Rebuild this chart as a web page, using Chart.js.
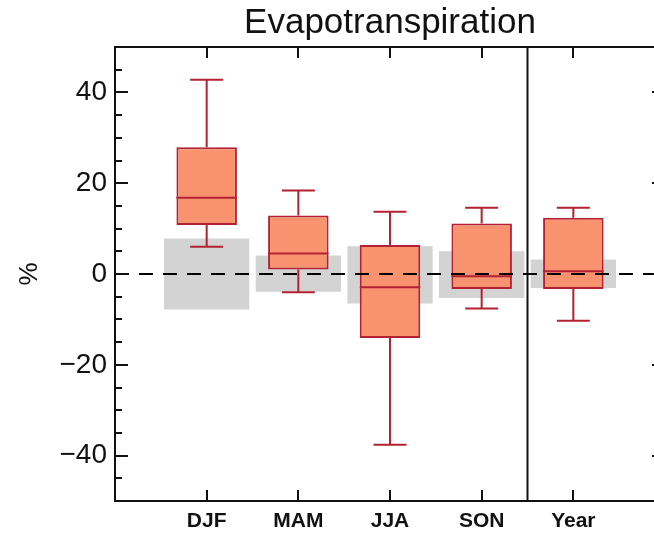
<!DOCTYPE html>
<html>
<head>
<meta charset="utf-8">
<script src="https://cdn.jsdelivr.net/npm/chart.js@4.4.1/dist/chart.umd.min.js"></script>
<style>
  html, body { margin: 0; padding: 0; background: #fff; overflow: hidden; }
  #wrap { width: 654px; height: 534px; overflow: hidden; position: relative; }
  canvas { display: block; }
</style>
</head>
<body>
<div id="wrap"><canvas id="c" width="700" height="534"></canvas></div>
<script>
// ---- data ----
const categories   = ['DJF', 'MAM', 'JJA', 'SON', 'Year'];
const whiskerLow   = [6.0, -4.0, -37.6, -7.6, -10.3];
const quartile1    = [10.8, 1.0, -14.1, -3.3, -3.3];
const medianVals   = [16.8, 4.5, -2.9, -0.5, 0.6];
const quartile3    = [27.9, 12.9, 6.4, 11.1, 12.4];
const whiskerHigh  = [42.8, 18.4, 13.7, 14.6, 14.6];
const spreadLow    = [-7.8, -3.9, -6.5, -5.3, -3.1];
const spreadHigh   = [7.8, 4.1, 6.1, 5.0, 3.2];
const yTickValues  = [-40, -20, 0, 20, 40];
const yTickLabels  = ['\u221240', '\u221220', '0', '20', '40'];
const separatorAt  = 4.5;

const FONT = "'Liberation Sans', Arial, Helvetica, sans-serif";
const RED = '#B22233';
const FILL = '#F9926F';
const GREY = '#D3D3D3';
const CAP = 0.18;
const MED = 0.33;

const xs = categories.map((c, i) => i + 1);

const greyData = xs.map((x, i) => ({ x, y: [spreadLow[i], spreadHigh[i]] }));
const boxData = xs.map((x, i) => ({ x, y: [quartile1[i], quartile3[i]] }));

const whiskerData = [];
xs.forEach((x, i) => {
  whiskerData.push({ x, y: quartile3[i] }, { x, y: whiskerHigh[i] }, { x, y: null });
  whiskerData.push({ x: x - CAP, y: whiskerHigh[i] }, { x: x + CAP, y: whiskerHigh[i] }, { x, y: null });
  whiskerData.push({ x, y: quartile1[i] }, { x, y: whiskerLow[i] }, { x, y: null });
  whiskerData.push({ x: x - CAP, y: whiskerLow[i] }, { x: x + CAP, y: whiskerLow[i] }, { x, y: null });
});
const medianData = [];
xs.forEach((x, i) => {
  medianData.push({ x: x - MED, y: medianVals[i] }, { x: x + MED, y: medianVals[i] }, { x, y: null });
});

const framePlugin = {
  id: 'frame',
  afterDatasetsDraw(chart) {
    const { ctx, chartArea: a, scales: { x, y } } = chart;
    ctx.save();
    ctx.strokeStyle = '#111';
    ctx.lineWidth = 2;
    ctx.beginPath();
    for (let v = -45; v <= 45; v += 5) {
      const py = Math.round(y.getPixelForValue(v));
      const len = yTickValues.includes(v) ? 13 : 7;
      ctx.moveTo(a.left, py); ctx.lineTo(a.left + len, py);
      ctx.moveTo(a.right, py); ctx.lineTo(a.right - len, py);
    }
    xs.forEach(v => {
      const px = Math.round(x.getPixelForValue(v));
      ctx.moveTo(px, a.top); ctx.lineTo(px, a.top + 11);
      ctx.moveTo(px, a.bottom); ctx.lineTo(px, a.bottom - 11);
    });
    ctx.stroke();
    ctx.strokeRect(a.left, a.top, a.right - a.left, a.bottom - a.top);
    ctx.restore();
  }
};

new Chart(document.getElementById('c'), {
  type: 'bar',
  data: {
    datasets: [
      { type: 'bar', data: greyData, backgroundColor: GREY, borderWidth: 0,
        grouped: false, categoryPercentage: 1, barPercentage: 0.93, order: 6 },
      { type: 'line', data: whiskerData, borderColor: RED, borderWidth: 2,
        pointRadius: 0, spanGaps: false, tension: 0, fill: false, order: 5 },
      { type: 'bar', data: boxData, backgroundColor: FILL, borderColor: RED, borderWidth: 2,
        borderSkipped: false, grouped: false, categoryPercentage: 1, barPercentage: 0.66, order: 4 },
      { type: 'line', data: medianData, borderColor: RED, borderWidth: 2,
        pointRadius: 0, spanGaps: false, tension: 0, fill: false, order: 3 },
      { type: 'line', data: [{ x: 0, y: 0 }, { x: 6, y: 0 }], borderColor: '#000', borderWidth: 2,
        borderDash: [14, 10], pointRadius: 0, fill: false, order: 1 },
      { type: 'line', data: [{ x: separatorAt, y: -50 }, { x: separatorAt, y: 50 }], borderColor: '#111',
        borderWidth: 2, pointRadius: 0, fill: false, order: 1 }
    ]
  },
  options: {
    responsive: false,
    animation: false,
    devicePixelRatio: 1,
    layout: { padding: { left: 0, right: 35, top: 0, bottom: 0 } },
    plugins: {
      legend: { display: false },
      tooltip: { enabled: false },
      title: {
        display: true, text: 'Evapotranspiration', fullSize: false,
        color: '#111', font: { family: FONT, size: 35, weight: 'normal', lineHeight: 1.1 },
        padding: { top: 4, bottom: 4.5 }
      }
    },
    scales: {
      x: {
        type: 'linear', min: 0, max: 6, offset: false,
        grid: { display: false, drawTicks: false, offset: false }, border: { display: false },
        afterBuildTicks: s => { s.ticks = xs.map(v => ({ value: v })); },
        afterFit: s => { s.height = 33; },
        ticks: {
          autoSkip: false, maxRotation: 0, padding: 8, color: '#111',
          font: { family: FONT, size: 21, weight: 'bold' },
          callback: v => categories[v - 1]
        }
      },
      y: {
        type: 'linear', min: -50, max: 50,
        grid: { display: false, drawTicks: false }, border: { display: false },
        afterBuildTicks: s => { s.ticks = yTickValues.map(v => ({ value: v })); },
        afterFit: s => { s.width = 115; },
        ticks: {
          padding: 8, color: '#111', font: { family: FONT, size: 28 },
          callback: v => yTickLabels[yTickValues.indexOf(v)]
        },
        title: {
          display: true, text: '%', color: '#111',
          font: { family: FONT, size: 26 }, padding: { top: 14, bottom: 0 }
        }
      }
    }
  },
  plugins: [framePlugin]
});
</script>
</body>
</html>
